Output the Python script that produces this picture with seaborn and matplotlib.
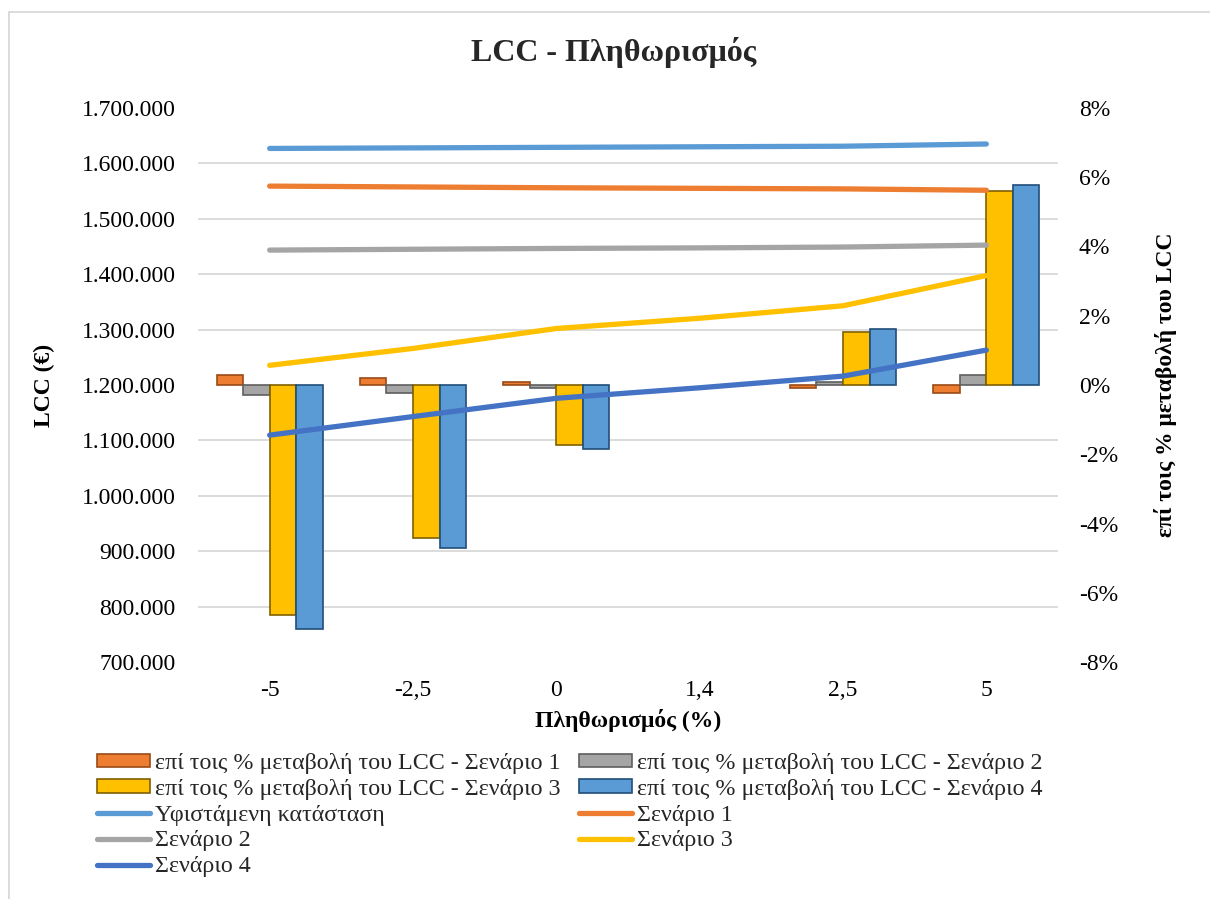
import numpy as np
import pandas as pd
import matplotlib
matplotlib.use("Agg")
import matplotlib.pyplot as plt
from matplotlib.patches import Patch, Rectangle
from matplotlib.lines import Line2D
from matplotlib.ticker import FuncFormatter, MultipleLocator, FixedLocator
import seaborn as sns

# ---------------- data ----------------
categories = ["-5", "-2,5", "0", "1,4", "2,5", "5"]

line_names = ["Υφιστάμενη κατάσταση", "Σενάριο 1", "Σενάριο 2", "Σενάριο 3", "Σενάριο 4"]
lcc_existing = [1627000, 1628000, 1629000, 1630000, 1631000, 1635000]
lcc_sc1 = [1559000, 1557500, 1556000, 1555000, 1554000, 1551500]
lcc_sc2 = [1443500, 1445000, 1446500, 1447500, 1449000, 1452500]
lcc_sc3 = [1235500, 1266000, 1302000, 1320500, 1343000, 1397500]
lcc_sc4 = [1109500, 1143000, 1176000, 1195000, 1216000, 1263000]

bar_names = ["επί τοις % μεταβολή του LCC - Σενάριο 1",
             "επί τοις % μεταβολή του LCC - Σενάριο 2",
             "επί τοις % μεταβολή του LCC - Σενάριο 3",
             "επί τοις % μεταβολή του LCC - Σενάριο 4"]
pct_sc1 = [0.29, 0.19, 0.08, 0.0, -0.08, -0.24]
pct_sc2 = [-0.30, -0.22, -0.09, 0.0, 0.10, 0.30]
pct_sc3 = [-6.63, -4.43, -1.74, 0.0, 1.54, 5.59]
pct_sc4 = [-7.06, -4.70, -1.86, 0.0, 1.61, 5.79]

title = "LCC - Πληθωρισμός"
xlabel = "Πληθωρισμός (%)"
ylabel_left = "LCC (€)"
ylabel_right = "επί τοις % μεταβολή του LCC"

# ---------------- styling ----------------
line_colors = ["#5B9BD5", "#ED7D31", "#A5A5A5", "#FFC000", "#4472C4"]
bar_face = ["#ED7D31", "#A5A5A5", "#FFC000", "#5B9BD5"]
bar_edge = ["#9A4A16", "#5F5F5F", "#7F6000", "#1F4E79"]

sns.set_theme(style="white")
plt.rcParams["font.family"] = ["Liberation Serif", "DejaVu Serif"]
FS = 17.3
TFS = 17

W, H = 1210, 899
fig = plt.figure(figsize=(W / 100, H / 100), dpi=100)
fig.patch.set_facecolor("white")

L, R, T, B = 198, 1058, 108, 662
ax = fig.add_axes([L / W, 1 - B / H, (R - L) / W, (B - T) / H])
ax2 = ax.twinx()

# bars on ax (percent, right side), lines on ax2 (LCC, left side)
pct_lists = [pct_sc1, pct_sc2, pct_sc3, pct_sc4]
bar_df = pd.DataFrame({
    "cat": np.tile(categories, len(bar_names)),
    "series": np.repeat(bar_names, len(categories)),
    "value": np.concatenate(pct_lists),
})
sns.barplot(data=bar_df, x="cat", y="value", hue="series", order=categories,
            hue_order=bar_names, palette=dict(zip(bar_names, bar_face)),
            width=0.74, ax=ax, legend=False, saturation=1, linewidth=1.2)
for cont, ec in zip(ax.containers, bar_edge):
    for p in cont.patches:
        p.set_edgecolor(ec)
        p.set_linewidth(1.2)
        if p.get_height() == 0:
            p.set_visible(False)

lcc_lists = [lcc_existing, lcc_sc1, lcc_sc2, lcc_sc3, lcc_sc4]
xpos = np.arange(len(categories))
line_df = pd.DataFrame({
    "x": np.tile(xpos, len(line_names)),
    "series": np.repeat(line_names, len(categories)),
    "value": np.concatenate(lcc_lists),
})
sns.lineplot(data=line_df, x="x", y="value", hue="series", hue_order=line_names,
             palette=dict(zip(line_names, line_colors)), linewidth=3.8,
             ax=ax2, legend=False, solid_capstyle="round", sort=False)

# axes limits / ticks
ax.set_xlim(-0.5, len(categories) - 0.5)
ax.set_ylim(-8, 8)
ax2.set_ylim(700000, 1700000)

ax.yaxis.tick_right()
ax.yaxis.set_label_position("right")
ax.yaxis.set_major_locator(MultipleLocator(2))
ax.yaxis.set_major_formatter(FuncFormatter(lambda v, p: f"{int(round(v))}%"))
ax.yaxis.set_minor_locator(FixedLocator(np.linspace(-8, 8, 11)))
ax.grid(False)
ax.grid(True, which="minor", axis="y", color="#D9D9D9", linewidth=1.3)
ax.set_axisbelow(True)

ax2.yaxis.tick_left()
ax2.yaxis.set_label_position("left")
ax2.yaxis.set_major_locator(MultipleLocator(100000))
ax2.yaxis.set_major_formatter(FuncFormatter(lambda v, p: f"{int(round(v)):,}".replace(",", ".")))
ax2.grid(False)

ax.set_xticks(xpos)
ax.set_xticklabels(categories)

for a in (ax, ax2):
    for s in a.spines.values():
        s.set_visible(False)
    a.tick_params(axis="both", which="both", length=0, labelsize=TFS, colors="#000000")
ax.tick_params(axis="y", pad=15)
ax2.tick_params(axis="y", pad=16)
ax.tick_params(axis="x", pad=13)
ax2.tick_params(axis="x", labelbottom=False)

ax.set_xlabel(xlabel, fontsize=17, fontweight="bold", labelpad=6, color="black")
ax.set_ylabel(ylabel_right, fontsize=17, fontweight="bold", rotation=90, labelpad=26, color="black")
ax2.set_ylabel(ylabel_left, fontsize=17, fontweight="bold", labelpad=19, color="black")

fig.text(614 / W, 1 - 53 / H, title, fontsize=23, fontweight="bold", ha="center", va="center")

# legend (column-major order to reproduce row-wise layout)
bar_handles = [Patch(facecolor=f, edgecolor=e, linewidth=1.2) for f, e in zip(bar_face, bar_edge)]
line_handles = [Line2D([], [], color=c, linewidth=3.8, solid_capstyle="round") for c in line_colors]
all_h = bar_handles + line_handles
all_l = bar_names + line_names
order = [0, 2, 4, 6, 8, 1, 3, 5, 7]
leg = fig.legend([all_h[i] for i in order], [all_l[i] for i in order],
                 loc="upper left", bbox_to_anchor=(97 / W, 1 - 753 / H), ncol=2,
                 frameon=False, fontsize=FS, handlelength=2.2, handleheight=0.5,
                 handletextpad=0.2, labelspacing=0.2, columnspacing=0.8,
                 borderaxespad=0, borderpad=0)

fig.patches.append(Rectangle((9 / W, -0.1), 1.2, 1.1 - 12 / H, transform=fig.transFigure,
                             fill=False, edgecolor="#D9D9D9", linewidth=1.3))

fig.savefig("out.png", dpi=100, facecolor="white")
